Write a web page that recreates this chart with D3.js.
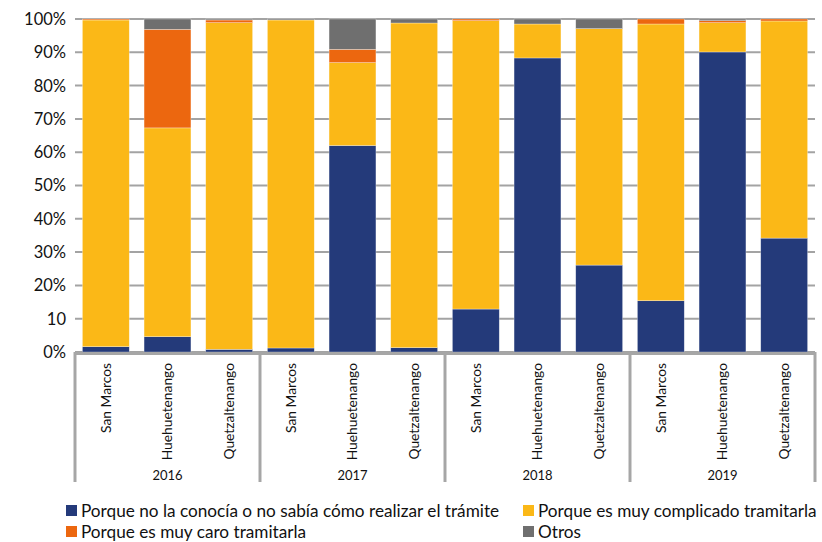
<!DOCTYPE html>
<html><head><meta charset="utf-8">
<script src="https://cdn.jsdelivr.net/npm/d3@7"></script>
<style>body{margin:0;background:#fff}svg{display:block}</style>
</head><body><svg id="c" width="822" height="542"></svg>
<script>
const years = ["2016","2017","2018","2019"];
const departments = ["San Marcos","Huehuetenango","Quetzaltenango"];
const seriesNames = ["Porque no la conocía o no sabía cómo realizar el trámite","Porque es muy complicado tramitarla","Porque es muy caro tramitarla","Otros"];
const noConocia   = [1.6, 4.6, 0.8, 1.2, 62.0, 1.3, 12.9, 88.3, 26.1, 15.4, 90.1, 34.2];
const complicado  = [98.1, 62.7, 98.1, 98.5, 24.9, 97.5, 86.6, 10.2, 71.0, 83.1, 8.8, 65.2];
const caro        = [0.3, 29.6, 0.8, 0.0, 4.0, 0.0, 0.5, 0.0, 0.0, 1.5, 0.6, 0.6];
const otros       = [0.0, 3.1, 0.3, 0.3, 9.1, 1.2, 0.0, 1.5, 2.9, 0.0, 0.5, 0.0];
const tickValues = [0,10,20,30,40,50,60,70,80,90,100];
const tickLabels = ["0%","10","20%","30%","40%","50%","60%","70%","80%","90%","100%"];
const colors = ["#243a7a","#fbb817","#ec670f","#6f6f6f"];

(function(){
const rows = [];
years.forEach((yr,yi)=>departments.forEach((d,di)=>{
  const i = yi*3+di;
  rows.push({key:i, year:yr, dep:d, s0:noConocia[i], s1:complicado[i], s2:caro[i], s3:otros[i]});
}));

const svg = d3.select("#c");
const pLeft=75, pRight=815, pTop=19, pBottom=352;
const x = d3.scaleBand().domain(rows.map(r=>r.key)).range([pLeft,pRight]).paddingInner(0.24).paddingOuter(0.12);
const y = d3.scaleLinear().domain([0,100]).range([pBottom,pTop]);
const tickFont = "Lato, 'Open Sans', sans-serif";

svg.append("g").selectAll("line").data(tickValues).join("line")
  .attr("x1",pLeft).attr("x2",pRight).attr("y1",d=>y(d)).attr("y2",d=>y(d))
  .attr("stroke","#a3a3a3").attr("stroke-width",2);

svg.append("g").selectAll("text").data(tickValues).join("text")
  .attr("x",66).attr("y",d=>y(d)).attr("dy","0.36em").attr("text-anchor","end")
  .attr("font-family",tickFont).attr("font-size",16.5).attr("fill","#111")
  .text((d,i)=>tickLabels[i]);

const stack = d3.stack().keys(["s0","s1","s2","s3"]);
const layers = stack(rows);
svg.append("g").selectAll("g").data(layers).join("g")
  .attr("fill",(d,i)=>colors[i])
  .selectAll("rect").data(d=>d).join("rect")
  .attr("x",d=>x(d.data.key)).attr("width",x.bandwidth())
  .attr("y",d=>y(d[1])).attr("height",d=>Math.max(0,y(d[0])-y(d[1])))
  .attr("stroke","#ffffff").attr("stroke-opacity",0.5).attr("stroke-width",0.6);

const axisColor="#a6a6a6";
const yAxisBottom=482;
svg.append("line").attr("x1",pLeft-1).attr("x2",pRight+1).attr("y1",pBottom+1.5).attr("y2",pBottom+1.5)
  .attr("stroke",axisColor).attr("stroke-width",3);
const groupEdges = d3.range(0,13,3).map(i=> i<12 ? x(i)-x.step()*x.paddingOuter() : pRight);
svg.append("g").selectAll("line").data(groupEdges).join("line")
  .attr("x1",d=>d).attr("x2",d=>d).attr("y1",pBottom).attr("y2",yAxisBottom)
  .attr("stroke",axisColor).attr("stroke-width",3);

svg.append("g").selectAll("text").data(rows).join("text")
  .attr("transform",d=>`translate(${x(d.key)+x.bandwidth()/2},363) rotate(-90)`)
  .attr("dy","0.35em").attr("text-anchor","end")
  .attr("font-family",tickFont).attr("font-size",13.8).attr("fill","#111")
  .text(d=>d.dep);

svg.append("g").selectAll("text").data(years).join("text")
  .attr("x",(d,i)=>(groupEdges[i]+groupEdges[i+1])/2).attr("y",480)
  .attr("text-anchor","middle").attr("font-family",tickFont).attr("font-size",13).attr("fill","#111")
  .text(d=>d);

const legendFont = "Lato, 'Liberation Sans', sans-serif";
const legPos = [[66,511],[523,511],[66,532],[523,532]];
const lg = svg.append("g").selectAll("g").data(seriesNames).join("g")
  .attr("transform",(d,i)=>`translate(${legPos[i][0]},${legPos[i][1]})`);
lg.append("rect").attr("x",0).attr("y",-6).attr("width",11).attr("height",11).attr("fill",(d,i)=>colors[i]);
lg.append("text").attr("x",15).attr("y",0).attr("dy","0.36em")
  .attr("font-family",legendFont).attr("font-size",17.2).attr("fill","#111").text(d=>d);
})();
</script></body></html>
